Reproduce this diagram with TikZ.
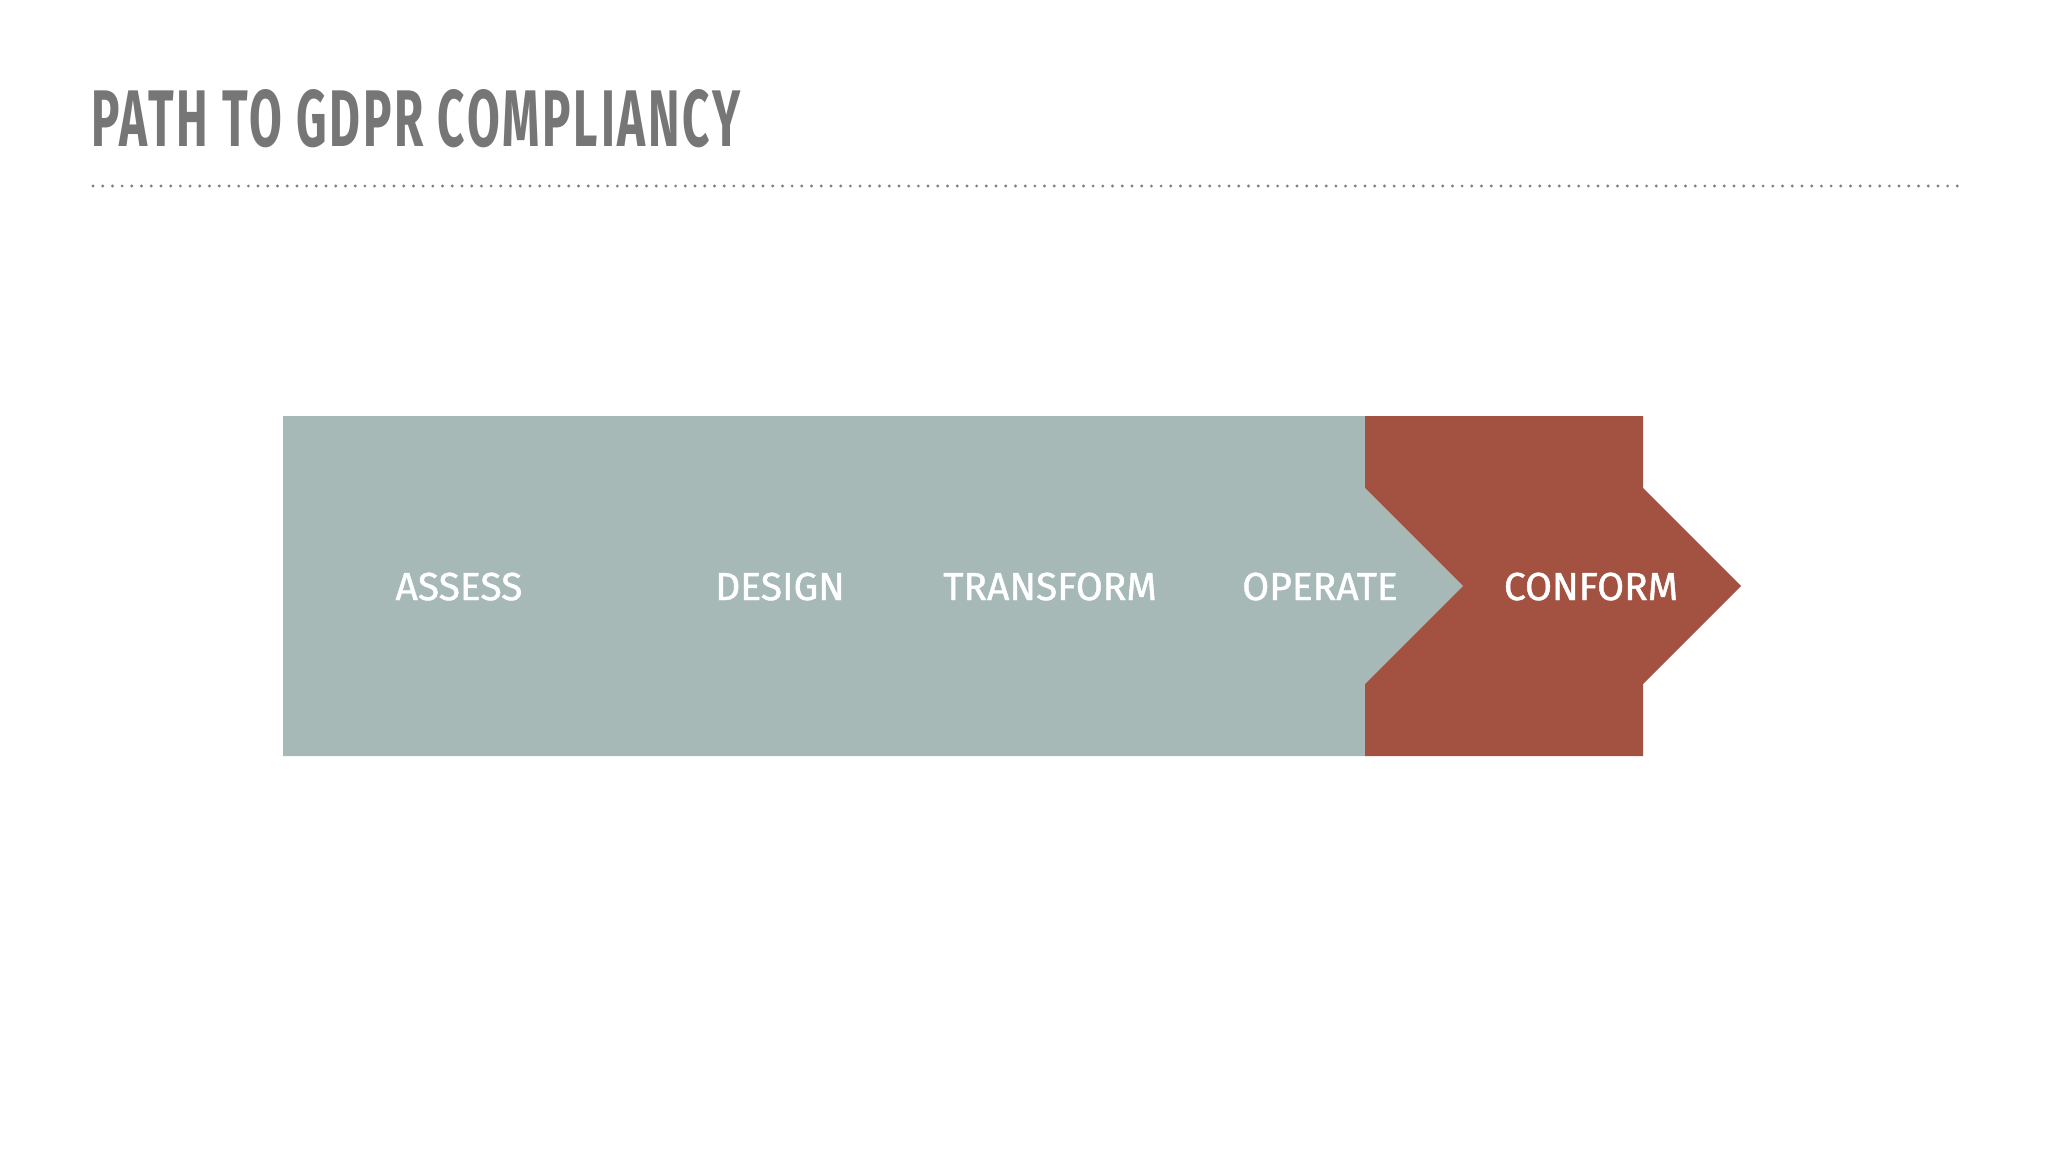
\documentclass[tikz,border=0pt]{standalone}
\usepackage{fontspec}
\setmainfont{Fira Sans}
\newfontfamily\titlefont{Fira Sans}[LetterSpace=6]
\newfontfamily\labelfont{Fira Sans}[FakeBold=1.2]
\definecolor{teal}{HTML}{A6B9B7}
\definecolor{brick}{HTML}{A35241}
\definecolor{titlegray}{HTML}{767676}
\definecolor{dotgray}{HTML}{808080}
\tikzset{
  steplabel/.style={text=white, font=\labelfont\fontsize{39}{39}\selectfont, inner sep=0pt, anchor=base},
}
\begin{document}
\begin{tikzpicture}[x=1pt,y=-1pt]
\useasboundingbox[fill=white] (0,0) rectangle (2048,1152);
% title
\node[anchor=base west, inner sep=0pt, text=titlegray] (title) at (91,146)
  {\resizebox{649pt}{57pt}{\titlefont\bfseries PATH TO GDPR COMPLIANCY}};
% dotted rule
\coordinate (ruleL) at (93,186);
\coordinate (ruleR) at (1958,186);
\draw[dotgray, line width=3.2pt, line cap=round, dash pattern=on 0pt off 9.71pt] (ruleL) -- (ruleR);
% teal band with arrow point
\fill[teal] (283,416) -- (1365,416) -- (1365,488) -- (1463,586) -- (1365,684) -- (1365,756) -- (283,756) -- cycle;
% brick chevron
\fill[brick] (1365,416) -- (1643,416) -- (1643,488) -- (1741,586) -- (1643,684) -- (1643,756) -- (1365,756) -- (1365,684) -- (1463,586) -- (1365,488) -- cycle;
% labels
\node[steplabel] (assess) at (459,600) {ASSESS};
\node[steplabel] (design) at (780,600) {DESIGN};
\node[steplabel] (transform) at (1050,600) {TRANSFORM};
\node[steplabel] (operate) at (1320,600) {OPERATE};
\node[steplabel] (conform) at (1591,600) {CONFORM};
\end{tikzpicture}
\end{document}
